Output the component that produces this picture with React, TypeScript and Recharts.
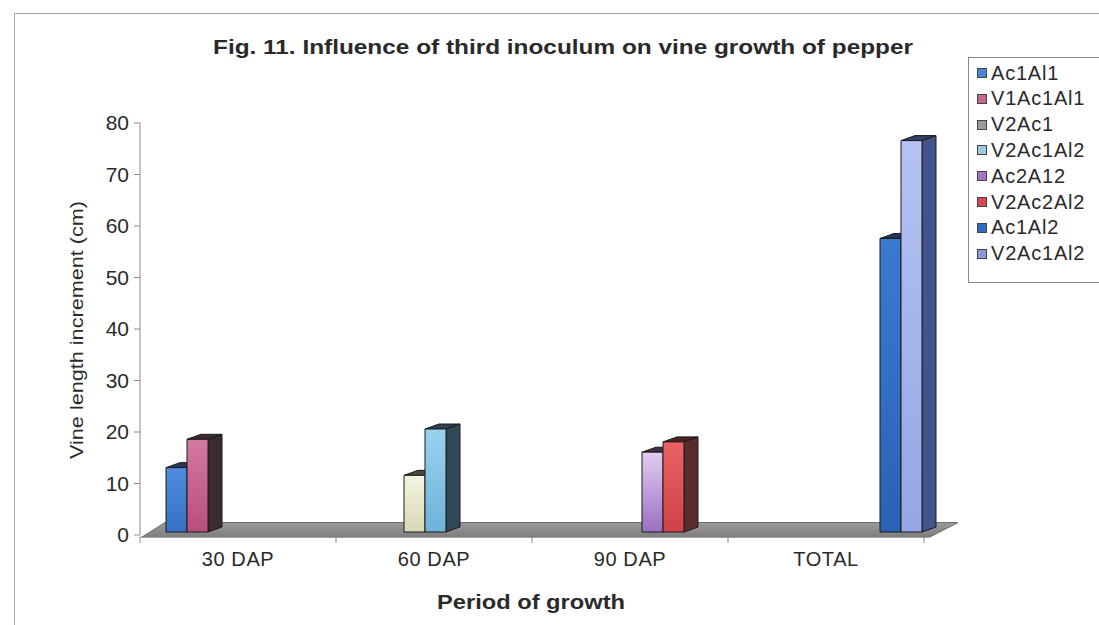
import React from 'react';
import { BarChart, Bar, XAxis, YAxis, ReferenceArea } from 'recharts';

// growth periods on the category axis
const periods = ['30 DAP', '60 DAP', '90 DAP', 'TOTAL'];

// treatment names, in legend order (the last one repeats a name on purpose)
const treatments = ['Ac1Al1', 'V1Ac1Al1', 'V2Ac1', 'V2Ac1Al2', 'Ac2A12', 'V2Ac2Al2', 'Ac1Al2', 'V2Ac1Al2'];

// vine length increment (cm); each treatment only has a reading in one period
const ac1al1 = [12.5, null, null, null];
const v1ac1al1 = [18, null, null, null];
const v2ac1 = [null, 11, null, null];
const v2ac1al2 = [null, 20, null, null];
const ac2a12 = [null, null, 15.5, null];
const v2ac2al2 = [null, null, 17.5, null];
const ac1al2 = [null, null, null, 57];
const v2ac1al2Total = [null, null, null, 76];

const yTicks = [0, 10, 20, 30, 40, 50, 60, 70, 80];

const seriesValues = [ac1al1, v1ac1al1, v2ac1, v2ac1al2, ac2a12, v2ac2al2, ac1al2, v2ac1al2Total];

// front face gradient (top, bottom), side colour, top colour
const palette = [
  { hi: '#4f8ce0', lo: '#3570c4', side: '#26324a', top: '#2c3550' },
  { hi: '#d27aa2', lo: '#b84e7c', side: '#3a2a32', top: '#3c2a34' },
  { hi: '#f4f3e0', lo: '#d8d8b4', side: '#44443a', top: '#4a4a40' },
  { hi: '#9ad2ee', lo: '#6fb2da', side: '#2f4a56', top: '#2c4450' },
  { hi: '#e2cdf0', lo: '#9a70c4', side: '#3c2e48', top: '#3e3048' },
  { hi: '#ea6264', lo: '#cf4246', side: '#5a2c2c', top: '#4a2424' },
  { hi: '#3a7ad0', lo: '#2a62b4', side: '#22304c', top: '#243252' },
  { hi: '#b4c2f4', lo: '#96a6e4', side: '#42548c', top: '#343e66' },
];
const swatch = ['#4a86d8', '#c46890', '#9a9a9a', '#9cc8e0', '#a078c0', '#d84a50', '#2f6cc6', '#8c98d8'];

const data = periods.map((period, i) => {
  const row: any = { period };
  seriesValues.forEach((vals, k) => { row[`s${k}`] = vals[i]; });
  return row;
});

const W = 1099, H = 625;
const margin = { top: 123, right: 175, bottom: 60, left: 0 };
const Y_AXIS_W = 140;
const PLOT_W = W - margin.left - margin.right - Y_AXIS_W;
const FONT = '"Liberation Sans", Arial, sans-serif';
const INK = '#2a2a2a';

// bars stand halfway back on the floor, so shift them up/right a little
const SHIFT_X = 12, SHIFT_Y = -3;
const DEPTH_X = 14, DEPTH_Y = 5;

const Bar3D = (props: any) => {
  const { x, y, width, height, k } = props;
  if (height == null || height <= 0 || isNaN(y)) return null;
  const c = palette[k];
  const l = x + SHIFT_X, r = l + width;
  const t = y + SHIFT_Y, b = y + height + SHIFT_Y;
  return (
    <g stroke="#1a1a1a" strokeWidth={1} strokeLinejoin="round">
      <polygon points={`${r},${t} ${r + DEPTH_X},${t - DEPTH_Y} ${r + DEPTH_X},${b - DEPTH_Y} ${r},${b}`} fill={c.side} />
      <polygon points={`${l},${t} ${l + DEPTH_X},${t - DEPTH_Y} ${r + DEPTH_X},${t - DEPTH_Y} ${r},${t}`} fill={c.top} />
      <rect x={l} y={t} width={width} height={b - t} fill={`url(#front${k})`} />
    </g>
  );
};

// grey 3-D floor under the bars
const Floor = (props: any) => {
  const { x, y, width, height } = props;
  const front = y + height + 2, back = y + 3;
  return (
    <g>
      <polygon
        points={`${x + 2},${front} ${x + width + 6},${front} ${x + width + 34},${back} ${x + 25},${back}`}
        fill="url(#floorGrad)" stroke="#6a6a6a" strokeWidth={1}
      />
      <line x1={x} x2={x + width + 6} y1={front} y2={front} stroke="#8a8a8a" strokeWidth={1} />
    </g>
  );
};

const CategoryTick = (props: any) => {
  const { x, y, payload, index } = props;
  const band = PLOT_W / periods.length;
  const top = y - 6;
  return (
    <g>
      <line x1={x - band / 2} x2={x - band / 2} y1={top} y2={top + 6} stroke="#888" />
      {index === periods.length - 1 && (
        <line x1={x + band / 2} x2={x + band / 2} y1={top} y2={top + 6} stroke="#888" />
      )}
      <text x={x} y={y + 23} textAnchor="middle" fontSize={20} letterSpacing={0.6} fontFamily={FONT} fill={INK}>
        {payload.value}
      </text>
    </g>
  );
};

export default function App() {
  return (
    <div style={{ position: 'fixed', left: 0, top: 0, width: W, height: H, overflow: 'hidden', background: '#fff' }}>
      <div style={{ position: 'absolute', left: 14, top: 13, width: 2000, height: 1200, border: '1.5px solid #a8a8a8' }} />

      <div style={{ position: 'absolute', left: 0, top: 0 }}>
        <BarChart width={W} height={H} data={data} margin={margin} barGap={0} barCategoryGap={14}>
          <defs>
            {palette.map((c, k) => (
              <linearGradient key={k} id={`front${k}`} x1="0" y1="0" x2="0" y2="1">
                <stop offset="0%" stopColor={c.hi} />
                <stop offset="100%" stopColor={c.lo} />
              </linearGradient>
            ))}
            <linearGradient id="floorGrad" x1="0" y1="0" x2="0" y2="1">
              <stop offset="0%" stopColor="#9a9a9a" />
              <stop offset="100%" stopColor="#7e7e7e" />
            </linearGradient>
          </defs>
          <XAxis dataKey="period" axisLine={false} tickLine={false} tick={<CategoryTick />} interval={0} height={30} />
          <YAxis
            domain={[0, 80]} ticks={yTicks} width={Y_AXIS_W} interval={0}
            axisLine={{ stroke: '#8a8a8a' }} tickLine={{ stroke: '#8a8a8a' }} tickSize={6} tickMargin={5}
            tick={{ fontSize: 21, fontFamily: FONT, fill: INK }}
          />
          <ReferenceArea y1={0} y2={3} shape={<Floor />} />
          {treatments.map((name, k) => (
            <Bar key={k} dataKey={`s${k}`} name={name} isAnimationActive={false}
              shape={(p: any) => <Bar3D {...p} k={k} />} />
          ))}
        </BarChart>
      </div>

      <svg width={W} height={H} style={{ position: 'absolute', left: 0, top: 0, pointerEvents: 'none' }}>
        <text x={563} y={54} textAnchor="middle" fontSize={20} fontWeight="bold" fontFamily={FONT} fill={INK}
          textLength={700} lengthAdjust="spacingAndGlyphs">
          Fig.  11. Influence of third inoculum on vine growth of pepper
        </text>
        <text x={0} y={0} transform="translate(83,330) rotate(-90)" textAnchor="middle" fontSize={19} fontFamily={FONT}
          fill={INK} textLength={258} lengthAdjust="spacingAndGlyphs">
          Vine length increment (cm)
        </text>
        <text x={531} y={609} textAnchor="middle" fontSize={20} fontWeight="bold" fontFamily={FONT} fill={INK}
          textLength={188} lengthAdjust="spacingAndGlyphs">
          Period of growth
        </text>
      </svg>

      <div style={{
        position: 'absolute', left: 968, top: 57, width: 200, height: 226,
        border: '1.5px solid #8a8a8a', background: '#fff', boxSizing: 'border-box',
      }}>
        {treatments.map((name, k) => (
          <div key={k} style={{
            position: 'absolute', left: 8, top: 3 + k * 25.8, height: 24,
            display: 'flex', alignItems: 'center', fontFamily: FONT, fontSize: 20, letterSpacing: 0.8, color: INK,
          }}>
            <span style={{
              display: 'inline-block', width: 8, height: 8, marginRight: 4,
              background: swatch[k], border: '1.5px solid #444',
            }} />
            {name}
          </div>
        ))}
      </div>
    </div>
  );
}
